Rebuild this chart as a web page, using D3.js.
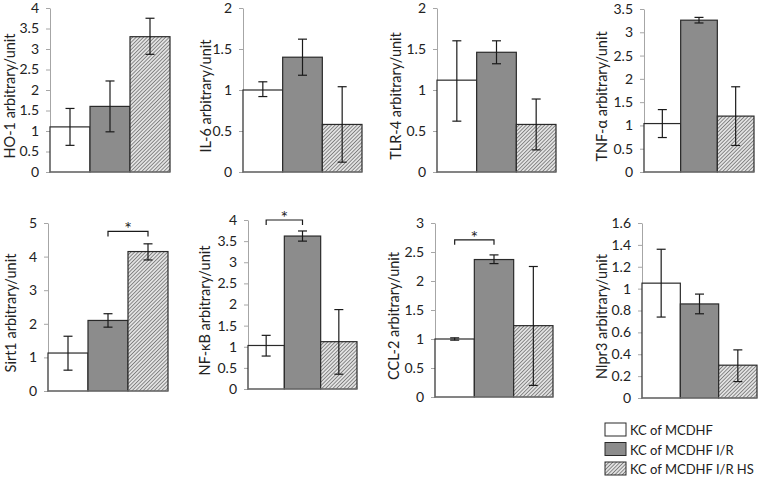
<!DOCTYPE html>
<html>
<head>
	<meta charset="utf-8">
	<title>KC markers</title>
	<style>
		body { margin: 0; background: #fff; }
		text { font-family: Lato, "Open Sans", sans-serif; fill: #222; }
	</style>
</head>
<body>
	<script src="https://d3js.org/d3.v7.min.js" charset="utf-8"></script>
	<script>
var groups = ['KC of MCDHF', 'KC of MCDHF I/R', 'KC of MCDHF I/R HS'];
var markers = ['HO-1', 'IL-6', 'TLR-4', 'TNF-\u03b1', 'Sirt1', 'NF-\u03baB', 'CCL-2', 'Nlpr3'];

// bar heights, error bar low / high ends, per marker
var means = [
	[1.1, 1.6, 3.3],
	[1.0, 1.4, 0.58],
	[1.12, 1.46, 0.58],
	[1.04, 3.26, 1.2],
	[1.13, 2.1, 4.15],
	[1.03, 3.62, 1.12],
	[1.0, 2.37, 1.23],
	[1.05, 0.86, 0.3]
];
var errLow = [
	[0.65, 0.98, 2.87],
	[0.92, 1.18, 0.12],
	[0.62, 1.32, 0.27],
	[0.74, 3.2, 0.57],
	[0.62, 1.9, 3.9],
	[0.78, 3.5, 0.35],
	[0.98, 2.3, 0.2],
	[0.74, 0.77, 0.15]
];
var errHigh = [
	[1.55, 2.22, 3.75],
	[1.1, 1.62, 1.04],
	[1.6, 1.6, 0.89],
	[1.34, 3.32, 1.83],
	[1.63, 2.3, 4.38],
	[1.27, 3.74, 1.88],
	[1.02, 2.45, 2.25],
	[1.36, 0.95, 0.44]
];
var yMax = [4, 2, 2, 3.5, 5, 4, 3, 1.6];
var yStep = [0.5, 0.5, 0.5, 0.5, 1, 0.5, 0.5, 0.2];
// significance brackets: [group a, group b, level]
var sig = [null, null, null, null, [1, 2, 4.75], [0, 1, 4.0], [0, 1, 2.71], null];

// panel frames: axis x, right x, top y, bottom y, y-label x
var frames = [
	[50, 170, 8, 172, 9],
	[243, 362, 8, 172, 205],
	[437, 556, 8, 172, 395],
	[644, 754, 9, 172, 601],
	[48, 168, 223, 391, 10],
	[248, 357, 220, 389, 204],
	[435, 553, 223, 397, 393],
	[642, 757, 223, 398, 601]
];

var svg = d3.select('body').append('svg')
	.attr('width', 760)
	.attr('height', 478);

var defs = svg.append('defs');
var pat = defs.append('pattern')
	.attr('id', 'hatch')
	.attr('patternUnits', 'userSpaceOnUse')
	.attr('width', 2.6)
	.attr('height', 2.6)
	.attr('patternTransform', 'rotate(45)');
pat.append('rect').attr('width', 2.6).attr('height', 2.6).attr('fill', '#e2e2e2');
pat.append('line').attr('x1', 0).attr('y1', 0).attr('x2', 0).attr('y2', 2.6)
	.attr('stroke', '#5a5a5a').attr('stroke-width', 1.3);

var fills = ['#ffffff', '#8c8c8c', 'url(#hatch)'];
var fmt = d3.format('~g');

markers.forEach(function(name, p) {
	var f = frames[p];
	var g = svg.append('g');

	var x = d3.scaleBand().domain(groups).range([f[0], f[1]]).padding(0);
	var y = d3.scaleLinear().domain([0, yMax[p]]).range([f[3], f[2]]);

	var ticks = d3.range(0, yMax[p] + yStep[p] / 2, yStep[p]);
	var axis = g.append('g')
		.attr('transform', 'translate(' + f[0] + ',0)')
		.call(d3.axisLeft(y).tickValues(ticks).tickSize(4).tickSizeOuter(0).tickPadding(7).tickFormat(fmt));
	axis.select('.domain').attr('stroke', '#a6a6a6');
	axis.selectAll('.tick line').attr('stroke', '#a6a6a6');
	axis.selectAll('.tick text')
		.attr('font-family', 'Lato, "Open Sans", sans-serif')
		.attr('font-size', 14)
		.attr('fill', '#222');

	var rows = groups.map(function(k, i) {
		return { key: k, i: i, v: means[p][i], lo: errLow[p][i], hi: errHigh[p][i] };
	});

	g.selectAll('rect.bar')
		.data(rows)
		.enter()
		.append('rect')
		.attr('class', 'bar')
		.attr('x', function(d) { return x(d.key); })
		.attr('y', function(d) { return y(d.v); })
		.attr('width', x.bandwidth())
		.attr('height', function(d) { return y(0) - y(d.v); })
		.attr('fill', function(d) { return fills[d.i]; })
		.attr('stroke', '#2a2a2a')
		.attr('stroke-width', 1.2);

	// base line
	g.append('line')
		.attr('x1', f[0]).attr('x2', f[1])
		.attr('y1', y(0)).attr('y2', y(0))
		.attr('stroke', '#8a8a8a');

	var eb = g.selectAll('g.err')
		.data(rows)
		.enter()
		.append('g')
		.attr('class', 'err')
		.attr('stroke', '#1a1a1a')
		.attr('stroke-width', 1.2);
	var cx = function(d) { return x(d.key) + x.bandwidth() / 2; };
	eb.append('line')
		.attr('x1', cx).attr('x2', cx)
		.attr('y1', function(d) { return y(d.lo); })
		.attr('y2', function(d) { return y(d.hi); });
	[ 'lo', 'hi' ].forEach(function(end) {
		eb.append('line')
			.attr('x1', function(d) { return cx(d) - 4.5; })
			.attr('x2', function(d) { return cx(d) + 4.5; })
			.attr('y1', function(d) { return y(d[end]); })
			.attr('y2', function(d) { return y(d[end]); });
	});

	if (sig[p]) {
		var a = x(groups[sig[p][0]]) + x.bandwidth() / 2;
		var b = x(groups[sig[p][1]]) + x.bandwidth() / 2;
		var by = y(sig[p][2]);
		g.append('path')
			.attr('d', 'M' + a + ',' + (by + 5) + 'V' + by + 'H' + b + 'V' + (by + 5))
			.attr('fill', 'none')
			.attr('stroke', '#1a1a1a')
			.attr('stroke-width', 1.2);
		g.append('text')
			.attr('x', (a + b) / 2)
			.attr('y', by + 4)
			.attr('text-anchor', 'middle')
			.attr('font-size', 18)
			.attr('fill', '#1a1a1a')
			.text('*');
	}

	g.append('text')
		.attr('transform', 'translate(' + f[4] + ',' + ((f[2] + f[3]) / 2 + 6) + ') rotate(-90)')
		.attr('text-anchor', 'middle')
		.attr('dominant-baseline', 'central')
		.attr('font-size', 14.5)
		.text(name + ' arbitrary/unit');
});

// legend
var leg = svg.append('g').attr('transform', 'translate(605,423)');
var li = leg.selectAll('g')
	.data(groups)
	.enter()
	.append('g')
	.attr('transform', function(d, i) { return 'translate(0,' + (i * 19.5) + ')'; });
li.append('rect')
	.attr('width', 21)
	.attr('height', 13)
	.attr('fill', function(d, i) { return fills[i]; })
	.attr('stroke', '#2a2a2a')
	.attr('stroke-width', 1);
li.append('text')
	.attr('x', 25)
	.attr('y', 7)
	.attr('dominant-baseline', 'central')
	.attr('font-size', 13)
	.text(function(d) { return d; });
	</script>
</body>
</html>
